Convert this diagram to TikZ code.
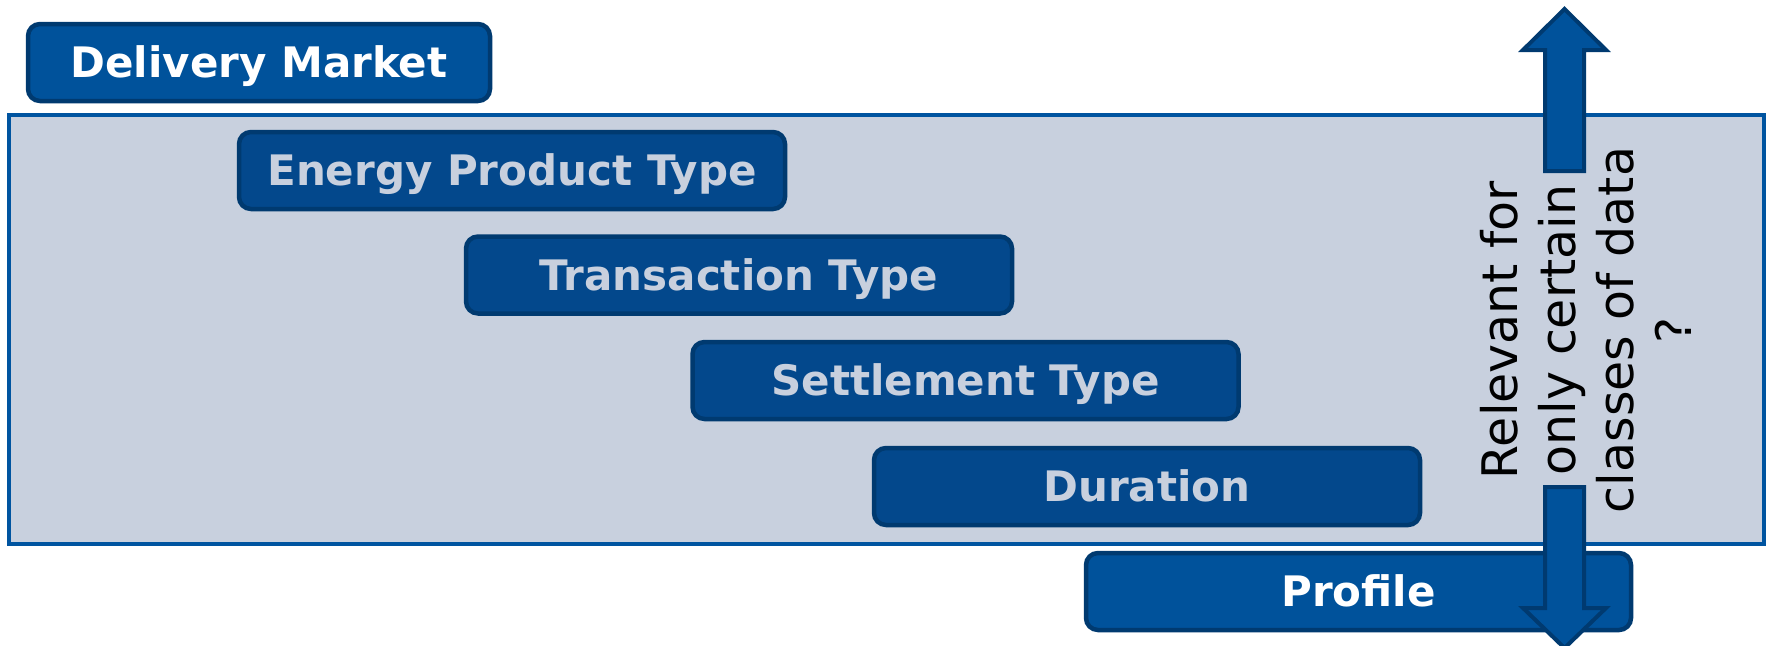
\documentclass[tikz,border=0pt]{standalone}
\usepackage{fontspec}
\setmainfont{DejaVu Sans}
\definecolor{boxblue}{HTML}{00529B}
\definecolor{innerblue}{HTML}{03488C}
\definecolor{edgeblue}{HTML}{003A70}
\definecolor{panelfill}{HTML}{C8D0DE}
\definecolor{paneledge}{HTML}{0054A0}
\tikzset{
  topbox/.style={draw=edgeblue, line width=4.5pt, fill=boxblue, rounded corners=12pt,
    minimum height=77pt, text=white, font=\fontsize{42}{50}\selectfont\bfseries, inner sep=0pt,
    text height=30.6pt, text depth=0pt},
  innerbox/.style={draw=edgeblue, line width=4.5pt, fill=innerblue, rounded corners=12pt,
    minimum width=546pt, minimum height=77pt, text=panelfill, font=\fontsize{42}{50}\selectfont\bfseries, inner sep=0pt,
    text height=30.6pt, text depth=0pt},
  panelbox/.style={draw=paneledge, line width=3.5pt, fill=panelfill, inner sep=0pt},
  blockarrow/.style={draw=edgeblue, line width=4pt, fill=boxblue, line join=miter},
  sidetext/.style={rotate=90, align=center, font=\fontsize{49}{58}\selectfont, text=black, inner sep=0pt}
}
\begin{document}
\begin{tikzpicture}[x=1pt,y=-1pt]
\useasboundingbox (0,0) rectangle (1766,645);
\node[topbox, minimum width=462pt] (dm) at (259,62.5) {Delivery Market};
\node[panelbox, minimum width=1755pt, minimum height=429pt] (panel) at (886.5,329.5) {};
\node[innerbox] (ept) at (512,170.5) {Energy Product Type};
\node[innerbox] (tt) at (739,275) {Transaction Type};
\node[innerbox] (st) at (965.5,380.5) {Settlement Type};
\node[innerbox] (dur) at (1147,486.5) {Duration};
\node[topbox, minimum width=545pt] (prof) at (1358.5,591.5) {Profile};
\draw[blockarrow] (1545,171) -- (1545,50) -- (1523,50) -- (1564.5,9) -- (1606,50) -- (1584,50) -- (1584,171) -- cycle;
\draw[blockarrow] (1545,487) -- (1545,608) -- (1523,608) -- (1564.5,648) -- (1606,608) -- (1584,608) -- (1584,487) -- cycle;
\node[sidetext] (rel) at (1586,330) {Relevant for\\only certain\\classes of data\\?};
\end{tikzpicture}
\end{document}
